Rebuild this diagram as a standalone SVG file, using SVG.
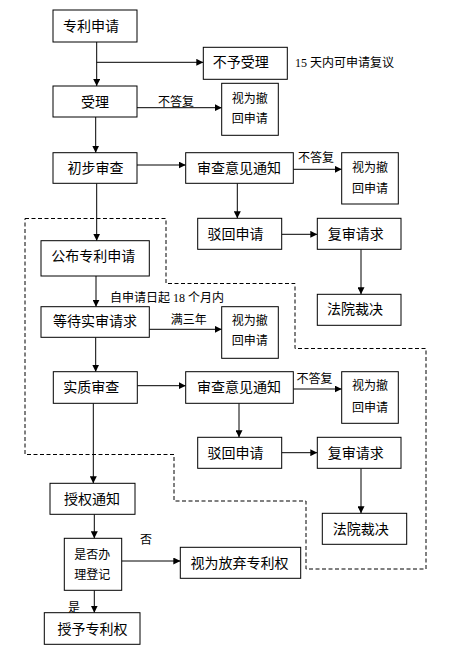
<svg xmlns="http://www.w3.org/2000/svg" width="456" height="658" viewBox="0 0 456 658">
<style>
.b{fill:#fff;stroke:#000;stroke-width:1}
.t{font-family:"Noto Sans CJK SC","Noto Sans",sans-serif;font-size:14px;fill:#000;text-anchor:middle}
.s{font-family:"Noto Sans CJK SC","Noto Sans",sans-serif;font-size:12px;fill:#000;text-anchor:middle}
.n{font-family:"Liberation Serif","Noto Sans CJK SC",serif;font-size:12px;fill:#000;text-anchor:start}
.c{stroke:#000;stroke-width:1;fill:none}
.d{stroke:#000;stroke-width:1;fill:none;stroke-dasharray:4,2.5}
</style>
<defs>
<marker id="a" markerUnits="userSpaceOnUse" markerWidth="7" markerHeight="7" refX="7" refY="3.5" orient="auto"><path d="M0,0 L7,3.5 L0,7 z" fill="#000"/></marker>
</defs>
<rect width="456" height="658" fill="#fff"/>
<g id="boundary"><path class="d" d="M25,218.5 H166 V283.5 H295 V348.5 H426 V569 H306 V501 H174 V454.5 H25 Z"/></g>
<g id="connectors">
<path class="c" marker-end="url(#a)" d="M96.7,42 V86"/>
<path class="c" marker-end="url(#a)" d="M96.7,62.3 H203.3"/>
<path class="c" marker-end="url(#a)" d="M137,107.7 H221.7"/>
<path class="c" marker-end="url(#a)" d="M95.7,117 V152.7"/>
<path class="c" marker-end="url(#a)" d="M137,165 H185.7"/>
<path class="c" marker-end="url(#a)" d="M293.3,169.3 H341.7"/>
<path class="c" marker-end="url(#a)" d="M237.3,183.3 V218.3"/>
<path class="c" marker-end="url(#a)" d="M96.7,183.3 V240.7"/>
<path class="c" marker-end="url(#a)" d="M281.7,234.3 H317.3"/>
<path class="c" marker-end="url(#a)" d="M361,249.3 V294.3"/>
<path class="c" marker-end="url(#a)" d="M96,276 V306.7"/>
<path class="c" marker-end="url(#a)" d="M149.3,329.3 H221.7"/>
<path class="c" marker-end="url(#a)" d="M95.7,337.3 V371.7"/>
<path class="c" marker-end="url(#a)" d="M137.3,385.7 H185.7"/>
<path class="c" marker-end="url(#a)" d="M293.3,389 H341.7"/>
<path class="c" marker-end="url(#a)" d="M239,403.3 V437.3"/>
<path class="c" marker-end="url(#a)" d="M281.7,452.7 H317.3"/>
<path class="c" marker-end="url(#a)" d="M361,468.3 V513.3"/>
<path class="c" marker-end="url(#a)" d="M93.3,403.3 V483.3"/>
<path class="c" marker-end="url(#a)" d="M94.3,514.3 V538.3"/>
<path class="c" marker-end="url(#a)" d="M121.7,561 H180.3"/>
<path class="c" marker-end="url(#a)" d="M94.3,590.3 V612.7"/>
<text class="s" x="176" y="106">不答复</text>
<text class="s" x="316" y="162">不答复</text>
<text class="n" x="110" y="301.5">自申请日起 18 个月内</text>
<text class="s" x="188.7" y="324.3">满三年</text>
<text class="s" x="314.5" y="382.5">不答复</text>
<text class="s" x="146" y="544.3">否</text>
<text class="s" x="74" y="611.5">是</text>
</g>
<g id="n1"><rect class="b" x="53" y="10" width="84" height="32"/><text class="t" x="91" y="31">专利申请</text></g>
<g id="n2"><rect class="b" x="203.3" y="47.3" width="84" height="32"/><text class="t" x="240.7" y="67">不予受理</text></g>
<g id="note"><text class="n" x="295" y="66.5">15 天内可申请复议</text></g>
<g id="n3"><rect class="b" x="53" y="86" width="84" height="31"/><text class="t" x="95" y="106.5">受理</text></g>
<g id="n4"><rect class="b" x="221.7" y="83.3" width="56.6" height="52"/><text class="s" x="249.7" y="103.3">视为撤</text><text class="s" x="249.7" y="123.3">回申请</text></g>
<g id="n5"><rect class="b" x="53" y="152.7" width="84" height="30.6"/><text class="t" x="95.5" y="173">初步审查</text></g>
<g id="n6"><rect class="b" x="185.7" y="152.7" width="107.6" height="30.6"/><text class="t" x="239" y="173">审查意见通知</text></g>
<g id="n7"><rect class="b" x="341.7" y="152.7" width="56.6" height="51.3"/><text class="s" x="370" y="171.6">视为撤</text><text class="s" x="370" y="192.6">回申请</text></g>
<g id="n8"><rect class="b" x="197.7" y="218.3" width="84" height="31"/><text class="t" x="235.5" y="239">驳回申请</text></g>
<g id="n9"><rect class="b" x="317.3" y="218.3" width="83.7" height="31"/><text class="t" x="355.7" y="239">复审请求</text></g>
<g id="n10"><rect class="b" x="317.3" y="294.3" width="83.7" height="31"/><text class="t" x="355" y="314.3">法院裁决</text></g>
<g id="n11"><rect class="b" x="41" y="240.7" width="108.3" height="35.3"/><text class="t" x="93.3" y="260.7">公布专利申请</text></g>
<g id="n12"><rect class="b" x="41" y="306.7" width="108.3" height="30.6"/><text class="t" x="95" y="326">等待实审请求</text></g>
<g id="n13"><rect class="b" x="221.7" y="306.7" width="56.6" height="51.6"/><text class="s" x="249.7" y="325.3">视为撤</text><text class="s" x="249.7" y="345">回申请</text></g>
<g id="n14"><rect class="b" x="53.3" y="371.7" width="84" height="31.6"/><text class="t" x="91.2" y="391.7">实质审查</text></g>
<g id="n15"><rect class="b" x="185.7" y="371.7" width="107.6" height="31.6"/><text class="t" x="239" y="391.7">审查意见通知</text></g>
<g id="n16"><rect class="b" x="341.7" y="371.7" width="56.6" height="51.6"/><text class="s" x="370" y="390">视为撤</text><text class="s" x="370" y="411.6">回申请</text></g>
<g id="n17"><rect class="b" x="197.7" y="437.3" width="84" height="31"/><text class="t" x="235.5" y="457.7">驳回申请</text></g>
<g id="n18"><rect class="b" x="317.3" y="437.3" width="83.7" height="31"/><text class="t" x="355.7" y="457.7">复审请求</text></g>
<g id="n19"><rect class="b" x="322.3" y="513.3" width="84.4" height="31"/><text class="t" x="360.8" y="534">法院裁决</text></g>
<g id="n20"><rect class="b" x="50" y="483.3" width="85" height="31"/><text class="t" x="92" y="504">授权通知</text></g>
<g id="n21"><rect class="b" x="64.3" y="538.3" width="57.4" height="52"/><text class="s" x="92.3" y="558.6">是否办</text><text class="s" x="92.3" y="578.6">理登记</text></g>
<g id="n22"><rect class="b" x="180.3" y="547.3" width="120.4" height="31"/><text class="t" x="239.5" y="568.3">视为放弃专利权</text></g>
<g id="n23"><rect class="b" x="44.3" y="612.7" width="95.7" height="31.6"/><text class="t" x="92.5" y="634">授予专利权</text></g>
</svg>
